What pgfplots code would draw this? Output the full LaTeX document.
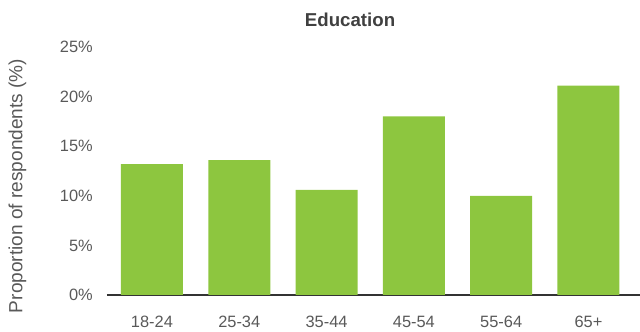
\documentclass[border=0pt]{standalone}
\usepackage{pgfplots}
\pgfplotsset{compat=1.18}
\usepackage{fontspec}
\setmainfont{Liberation Sans}
\definecolor{barg}{HTML}{8DC63F}
\definecolor{txt}{HTML}{595959}
\definecolor{ttl}{HTML}{404040}
\definecolor{axl}{HTML}{333333}
\begin{document}
\begin{tikzpicture}
\path[use as bounding box] (-80.25pt,-27.75pt) rectangle (399.75pt,221.25pt);
\begin{axis}[
  at={(0,0)}, anchor=south west,
  scale only axis, width=399.75pt, height=186pt,
  xmin=-0.515, xmax=5.59, ymin=0, ymax=25,
  axis x line=bottom, axis y line=left,
  x axis line style={draw=axl, line width=1pt, -},
  y axis line style={draw=none, -},
  major tick length=0pt,
  xtick=data, xticklabels={18-24,25-34,35-44,45-54,55-64,65+},
  ytick={0,5,10,15,20,25},
  yticklabels={0\%,5\%,10\%,15\%,20\%,25\%},
  tick label style={font=\fontsize{12.3}{14}\selectfont, text=txt, inner sep=0pt},
  x tick label style={anchor=base, yshift=-24.75pt},
  y tick label style={anchor=east, xshift=-10.5pt},
  title={Education},
  every axis title shift=0pt,
  title style={font=\bfseries\fontsize{14}{16}\selectfont, text=ttl, at={(axis description cs:0.456,1.109)}, anchor=center, yshift=0pt},
  ylabel={Proportion of respondents (\%)},
  ylabel style={font=\fontsize{14.3}{16}\selectfont, text=txt, at={(axis description cs:-0.168,0.44)}, anchor=center},
]
\addplot[ybar, bar width=46.5pt, fill=barg, draw=none] coordinates {(0,13.2)(1,13.6)(2,10.6)(3,18.0)(4,10.0)(5,21.1)};
\end{axis}
\end{tikzpicture}
\end{document}
